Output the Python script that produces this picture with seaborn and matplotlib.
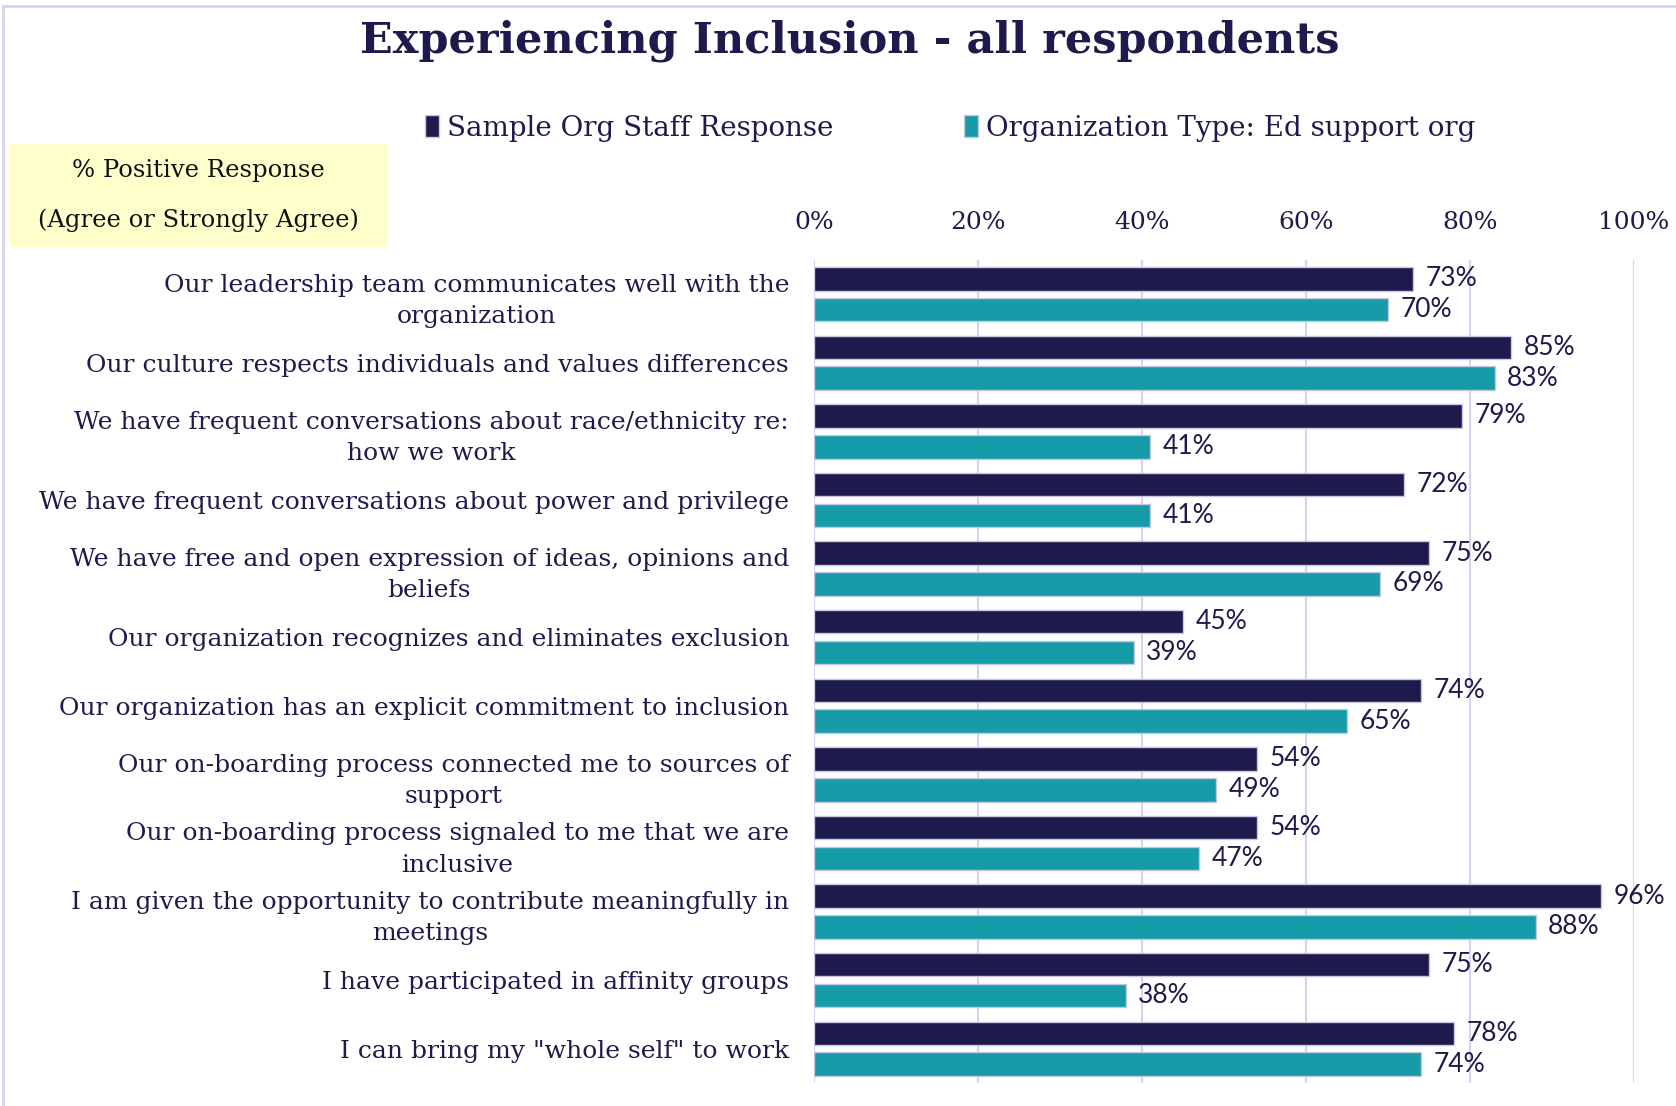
import pandas as pd
import seaborn as sns
import matplotlib.pyplot as plt
from matplotlib.lines import Line2D
from matplotlib.patches import Rectangle

# DATA
statements = [
    "Our leadership team communicates well with the\norganization",
    "Our culture respects individuals and values differences",
    "We have frequent conversations about race/ethnicity re:\nhow we work",
    "We have frequent conversations about power and privilege",
    "We have free and open expression of ideas, opinions and\nbeliefs",
    "Our organization recognizes and eliminates exclusion",
    "Our organization has an explicit commitment to inclusion",
    "Our on-boarding process connected me to sources of\nsupport",
    "Our on-boarding process signaled to me that we are\ninclusive",
    "I am given the opportunity to contribute meaningfully in\nmeetings",
    "I have participated in affinity groups",
    "I can bring my \"whole self\" to work",
]
sample_org = [73, 85, 79, 72, 75, 45, 74, 54, 54, 96, 75, 78]
ed_support = [70, 83, 41, 41, 69, 39, 65, 49, 47, 88, 38, 74]
series_names = ["Sample Org Staff Response", "Organization Type: Ed support org"]
x_ticks = [0, 20, 40, 60, 80, 100]

NAVY = "#1d1b4b"
TEAL = "#159ca8"
GRID = "#d6d3f0"

df = pd.DataFrame({
    "statement": statements * 2,
    "pct": sample_org + ed_support,
    "series": [series_names[0]] * len(statements) + [series_names[1]] * len(statements),
})

# STYLE
sns.set_theme(style="white")
plt.rcParams['font.family'] = ['DejaVu Serif']

fig = plt.figure(figsize=(16.76, 11.06), dpi=100)
ax = fig.add_axes([0.4857, 0.0208, 0.975 - 0.4857, 0.765 - 0.0208])

sns.barplot(data=df, y="statement", x="pct", hue="series", orient="h",
            palette=[NAVY, TEAL], saturation=1, width=0.9, gap=0.24, ax=ax,
            edgecolor="#c9c6e0", linewidth=1)

ax.set_xlim(0, 100)
ax.set_ylim(11.5, -0.5)
ax.set_xticks(x_ticks)
ax.set_xticklabels([f"{t}%" for t in x_ticks])
ax.xaxis.tick_top()
ax.tick_params(axis="x", length=0, pad=19, labelsize=18, labelcolor=NAVY)
ax.tick_params(axis="y", length=0, pad=18, labelsize=18, labelcolor=NAVY)
plt.setp(ax.get_yticklabels(), multialignment="center", linespacing=1.45)
ax.set_xlabel("")
ax.set_ylabel("")
for s in ax.spines.values():
    s.set_visible(False)
ax.grid(axis="x", color=GRID, linewidth=1.5)
ax.set_axisbelow(True)

for container in ax.containers:
    ax.bar_label(container, fmt="%.0f%%", padding=9, fontsize=19,
                 color=NAVY, family="Lato")

# LEGEND
sns.move_legend(ax, loc="center", bbox_to_anchor=(0.567, 0.884),
                bbox_transform=fig.transFigure, ncol=2, frameon=False,
                title=None, fontsize=20, handlelength=0.5, handleheight=0.85,
                handletextpad=0.3, columnspacing=4.7)
for t in ax.get_legend().get_texts():
    t.set_color(NAVY)

# TITLE
fig.text(0.507, 0.963, "Experiencing Inclusion - all respondents", ha="center",
         va="center", fontsize=31, fontweight="bold", color=NAVY)

# YELLOW NOTE BOX
fig.add_artist(Rectangle((9 / 1676, 1 - 247 / 1106), 378 / 1676, 103 / 1106,
                         transform=fig.transFigure, facecolor="#ffffcc",
                         edgecolor="none"))
fig.text(198 / 1676, 1 - 171 / 1106, "% Positive Response", ha="center",
         va="center", fontsize=17.5, color="#111111")
fig.text(198 / 1676, 1 - 220 / 1106, "(Agree or Strongly Agree)", ha="center",
         va="center", fontsize=17.5, color="#111111")

# OUTER BORDER
fig.add_artist(Line2D([0.002, 1], [1 - 6 / 1106, 1 - 6 / 1106],
                      transform=fig.transFigure, color=GRID, linewidth=2))
fig.add_artist(Line2D([0.002, 0.002], [0, 1 - 6 / 1106],
                      transform=fig.transFigure, color=GRID, linewidth=2))

plt.savefig("out.png", dpi=100, facecolor="white")
plt.close()
